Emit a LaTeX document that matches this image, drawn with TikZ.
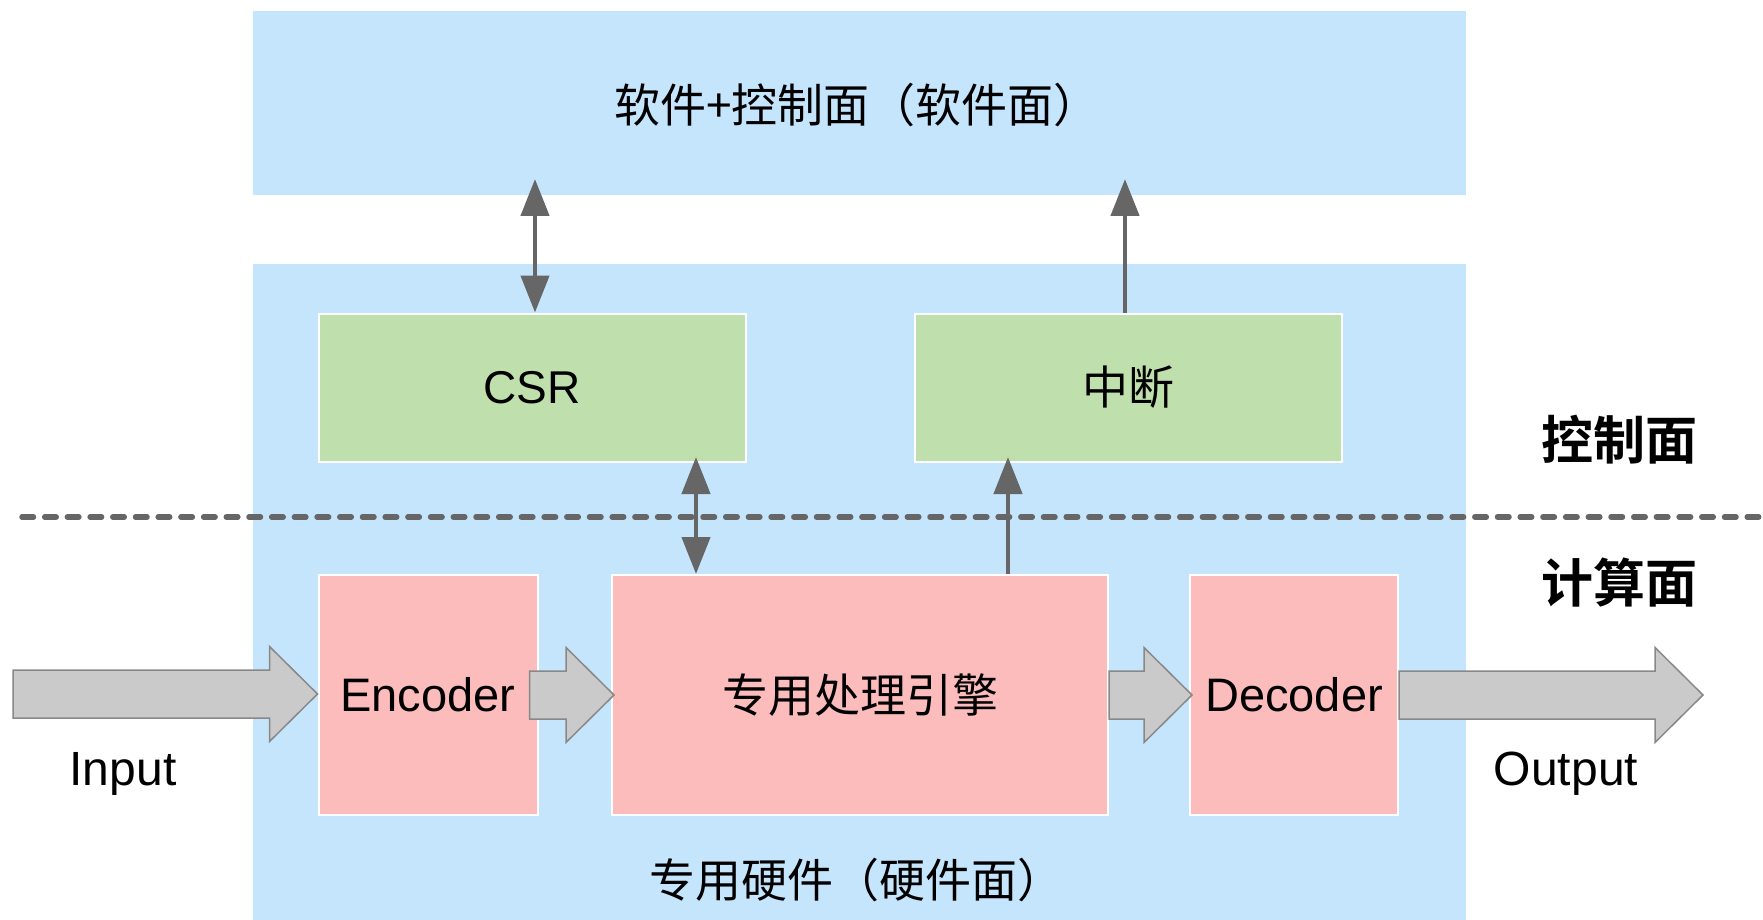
\documentclass[tikz,border=0pt]{standalone}
\usepackage{fontspec}
\setmainfont{Liberation Sans}
\newfontfamily\cjk{Noto Sans CJK SC}[BoldFont={Noto Sans CJK SC Bold}]
\usetikzlibrary{arrows.meta,calc}

\definecolor{planeblue}{RGB}{197,229,253}
\definecolor{ctrlgreen}{RGB}{191,224,173}
\definecolor{hwpink}{RGB}{253,188,188}
\definecolor{flowgray}{RGB}{202,202,202}
\definecolor{flowedge}{RGB}{136,136,136}
\definecolor{linkgray}{RGB}{102,102,102}

\tikzset{
  plane/.style={fill=planeblue, draw=none, inner sep=0pt},
  ctrlbox/.style={fill=ctrlgreen, draw=white, line width=1pt, inner sep=0pt,
    minimum width=213.5pt, minimum height=74pt, font=\fontsize{23}{27}\selectfont},
  hwbox/.style={fill=hwpink, draw=white, line width=1pt, inner sep=0pt,
    minimum height=120pt, font=\fontsize{23.5}{27}\selectfont},
  cjkbox/.style={font=\cjk\fontsize{23}{27}\selectfont},
  link/.style={draw=linkgray, line width=2.25pt,
    {Triangle[length=18.5pt,width=14pt]}-{Triangle[length=18.5pt,width=14pt]}},
  uplink/.style={draw=linkgray, line width=2.25pt,
    -{Triangle[length=18.5pt,width=14pt]}},
  flow/.style={fill=flowgray, draw=flowedge, line width=0.75pt, line join=miter},
  planelabel/.style={font=\cjk\bfseries\fontsize{26}{30}\selectfont},
  planetitle/.style={font=\cjk\fontsize{23}{27}\selectfont},
  plain/.style={font=\fontsize{24}{28}\selectfont},
}

% wide block arrow from point #1 to the tip at #2
\newcommand{\blockarrow}[2]{%
  \path[flow] let \p1=(#1), \p2=(#2) in
    (\x1,\y1+12pt) -- (\x2-24pt,\y1+12pt) -- (\x2-24pt,\y1+23.75pt) --
    (\x2,\y1) -- (\x2-24pt,\y1-23.75pt) -- (\x2-24pt,\y1-12pt) --
    (\x1,\y1-12pt) -- cycle;}

\begin{document}
\begin{tikzpicture}[x=0.5pt,y=-0.5pt]
\useasboundingbox (0,0) rectangle (1763,920);

% software plane and hardware plane
\node[plane, minimum width=606.5pt, minimum height=92pt] (sw) at (859.5,103) {};
\node[plane, minimum width=606.5pt, minimum height=328pt] (hw) at (859.5,592) {};
\node[planetitle] (swlabel) at (857,105) {软件+控制面（软件面）};
\node[planetitle] (hwlabel) at (856,880) {专用硬件（硬件面）};

% control registers and interrupt logic
\node[ctrlbox] (csr) at (532,387.5) {CSR};
\node[ctrlbox, cjkbox] (irq) at (1128,387.5) {中断};

% divider between control and compute
\coordinate (divL) at (22,517);
\coordinate (divR) at (1763,517);
\draw[linkgray, line width=2.75pt, line cap=round, dash pattern=on 5.75pt off 5.6pt]
  (divL) -- (divR);
\node[planelabel] (ctrlname) at (1619,440) {控制面};
\node[planelabel] (compname) at (1619,583) {计算面};

% datapath
\node[hwbox, minimum width=109.5pt] (enc) at (428,695) {Encoder};
\node[hwbox, cjkbox, minimum width=248pt] (eng) at (860,695) {专用处理引擎};
\node[hwbox, minimum width=104pt] (dec) at (1294,695) {Decoder};

% control links
\coordinate (csrTop) at (535,179);
\draw[link] (csrTop) -- (csr.north -| csrTop);
\coordinate (irqTop) at (1125,179);
\draw[uplink] (irq.north -| irqTop) -- (irqTop);
\coordinate (csrLow) at (696,457);
\draw[link] (csrLow) -- (eng.north -| csrLow);
\coordinate (irqLow) at (1008,457);
\draw[uplink] (eng.north -| irqLow) -- (irqLow);

% data flow arrows
\coordinate (inStart) at (13,694);
\coordinate (outTip) at (1703,694);
\blockarrow{inStart}{enc.west}
\blockarrow{$(enc.east)+(-9,0)$}{$(eng.west)+(3,0)$}
\blockarrow{eng.east}{$(dec.west)+(3,0)$}
\blockarrow{dec.east}{outTip}
\node[plain] (inlabel) at (123,774) {Input};
\node[plain] (outlabel) at (1566,774) {Output};
\end{tikzpicture}
\end{document}
